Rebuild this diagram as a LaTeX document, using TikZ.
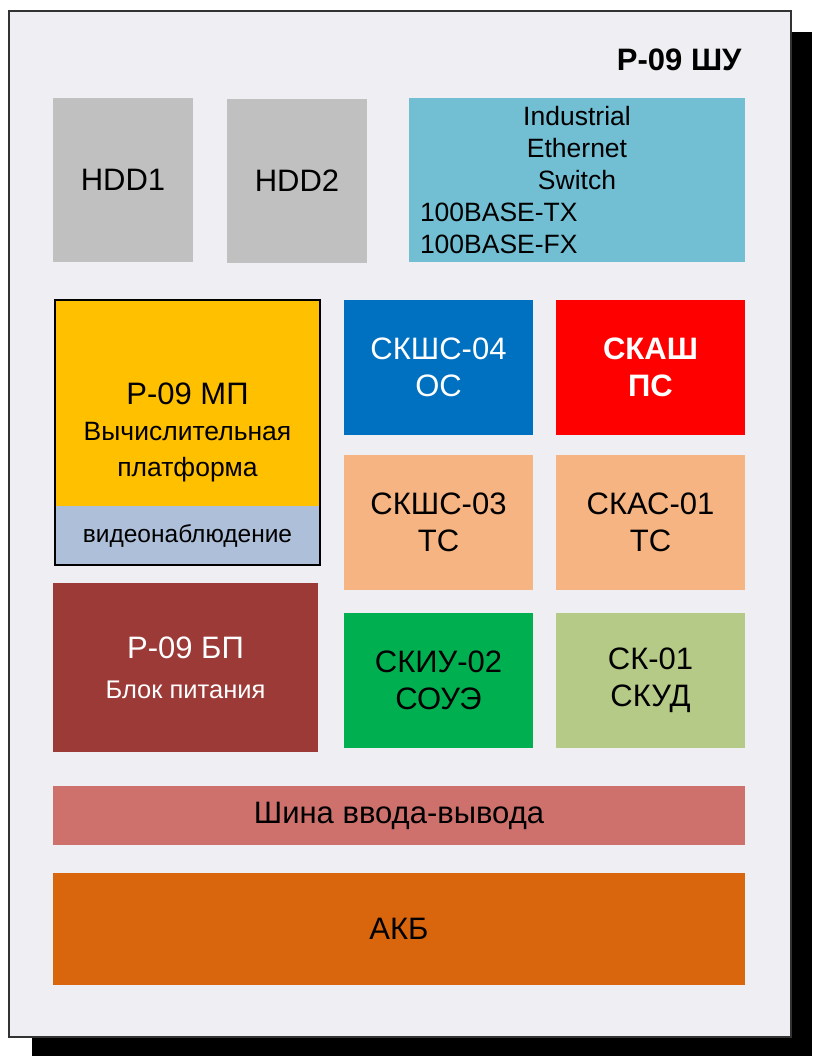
\documentclass[tikz,border=0pt]{standalone}
\usepackage{fontspec}
\setmainfont{Liberation Sans}

\definecolor{panel}{HTML}{EEEEF3}
\definecolor{hddgray}{HTML}{C0C0C0}
\definecolor{switchblue}{HTML}{72BED3}
\definecolor{mpyellow}{HTML}{FFC000}
\definecolor{videoblue}{HTML}{ADBFD9}
\definecolor{osblue}{HTML}{0070C0}
\definecolor{psred}{HTML}{FF0000}
\definecolor{tspeach}{HTML}{F5B482}
\definecolor{bpred}{HTML}{9C3A37}
\definecolor{souegreen}{HTML}{00B050}
\definecolor{skudgreen}{HTML}{B6CA88}
\definecolor{busred}{HTML}{CE716C}
\definecolor{akborange}{HTML}{D9650C}

\newcommand\bigfnt{\fontsize{31}{37}\selectfont}
\newcommand\smallfnt{\fontsize{26.5}{32}\selectfont}

\begin{document}
\begin{tikzpicture}[
    x=1pt, y=-1pt,
    hdd/.style={rectangle, fill=hddgray, inner sep=0pt, minimum width=140pt, minimum height=164pt, font=\bigfnt},
    unit/.style={rectangle, inner sep=0pt, minimum width=189pt, minimum height=135pt, align=center, font=\bigfnt},
    bigbox/.style={rectangle, inner sep=0pt, minimum width=265pt, align=center},
    bar/.style={rectangle, inner sep=0pt, minimum width=692pt, font=\bigfnt}
]

\useasboundingbox (0,0) rectangle (812,1056);

% Cabinet with shadow
\fill[black] (32,32) rectangle (812,1056);
\node[draw=black!80, line width=1.5pt, fill=panel, minimum width=782pt, minimum height=1026pt] (cab) at (400,524) {};
\node[anchor=east, font=\bigfnt\bfseries] (title) at (745,60) {Р-09 ШУ};

% Storage and network
\node[hdd] (hdd1) at (123,180) {HDD1};
\node[hdd] (hdd2) at (297,181) {HDD2};
\node[rectangle, fill=switchblue, inner xsep=11pt, inner ysep=0pt, minimum width=336pt, minimum height=164pt,
      text width=314pt, align=left, font=\smallfnt] (switch) at (577,180)
      {{\centering Industrial\\Ethernet\\Switch\par}100BASE-TX\\100BASE-FX};

% Computing platform
\node[bigbox, fill=mpyellow, minimum height=265pt, font=\fontsize{31}{36}\selectfont] (mp) at (187.5,432.5)
      {Р-09 МП\\\smallfnt Вычислительная\\\smallfnt платформа};
\node[bigbox, fill=videoblue, minimum height=59pt, font=\fontsize{24.5}{30}\selectfont] (video) at (187.5,535.5) {видеонаблюдение};
\draw[line width=1.5pt] (mp.north west) rectangle (mp.south east);

% Power supply
\node[bigbox, fill=bpred, text=white, minimum height=169pt, font=\fontsize{31}{40}\selectfont] (bp) at (185.5,667.5)
      {Р-09 БП\\\fontsize{25.5}{40}\selectfont Блок питания};

% Subsystem cards
\node[unit, fill=osblue, text=white] (os) at (438.5,367.5) {СКШС-04\\ОС};
\node[unit, fill=psred, text=white, font=\bigfnt\bfseries] (ps) at (650.5,367.5) {СКАШ\\ПС};
\node[unit, fill=tspeach] (ts3) at (438.5,522.5) {СКШС-03\\ТС};
\node[unit, fill=tspeach] (ts1) at (650.5,522.5) {СКАС-01\\ТС};
\node[unit, fill=souegreen] (soue) at (438.5,680.5) {СКИУ-02\\СОУЭ};
\node[unit, fill=skudgreen] (skud) at (650.5,680.5) {СК-01\\СКУД};

% Bus and battery
\node[bar, fill=busred, minimum height=59pt] (bus) at (399,815.5) {Шина ввода-вывода};
\node[bar, fill=akborange, minimum height=112pt] (akb) at (399,929) {АКБ};

\end{tikzpicture}
\end{document}
